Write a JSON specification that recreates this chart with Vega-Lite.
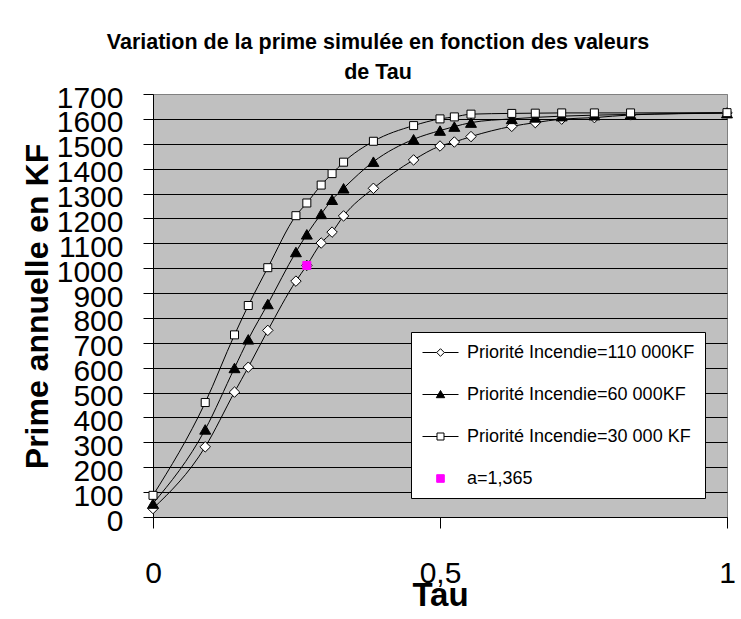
{
  "$schema": "https://vega.github.io/schema/vega-lite/v6.json",
  "width": 574,
  "height": 423,
  "autosize": {"type": "none"},
  "padding": {"left": 153, "top": 94, "right": 14, "bottom": 102},
  "background": "white",
  "config": {
    "font": "Liberation Sans",
    "view": {"fill": "#C0C0C0", "stroke": "#808080", "strokeWidth": 1},
    "legend": {
      "title": null,
      "orient": "none",
      "legendX": 258,
      "legendY": 238,
      "direction": "vertical",
      "fillColor": "white",
      "strokeColor": "black",
      "padding": 10,
      "cornerRadius": 0,
      "symbolSize": 400,
      "symbolOffset": 9,
      "symbolStrokeWidth": 1,
      "symbolOpacity": 1,
      "labelOffset": 16,
      "labelFont": "Liberation Sans",
      "labelFontSize": 18,
      "labelColor": "black",
      "labelLimit": 0,
      "rowPadding": 22
    }
  },
  "title": {
    "text": ["Variation de la prime simulée en fonction des valeurs", "de Tau"],
    "font": "Liberation Sans",
    "fontSize": 21.5,
    "fontWeight": "bold",
    "color": "black",
    "lineHeight": 30,
    "anchor": "middle",
    "frame": "group",
    "dx": -62,
    "dy": 22,
    "baseline": "alphabetic",
    "offset": 5
  },
  "data": {
    "values": [
      {"tau": 0, "prime": 34, "serie": "Priorité Incendie=110 000KF"},
      {"tau": 0.091, "prime": 282, "serie": "Priorité Incendie=110 000KF"},
      {"tau": 0.142, "prime": 502, "serie": "Priorité Incendie=110 000KF"},
      {"tau": 0.166, "prime": 602, "serie": "Priorité Incendie=110 000KF"},
      {"tau": 0.2, "prime": 750, "serie": "Priorité Incendie=110 000KF"},
      {"tau": 0.249, "prime": 948, "serie": "Priorité Incendie=110 000KF"},
      {"tau": 0.268, "prime": 1011, "serie": "Priorité Incendie=110 000KF"},
      {"tau": 0.293, "prime": 1101, "serie": "Priorité Incendie=110 000KF"},
      {"tau": 0.312, "prime": 1145, "serie": "Priorité Incendie=110 000KF"},
      {"tau": 0.332, "prime": 1210, "serie": "Priorité Incendie=110 000KF"},
      {"tau": 0.384, "prime": 1321, "serie": "Priorité Incendie=110 000KF"},
      {"tau": 0.454, "prime": 1435, "serie": "Priorité Incendie=110 000KF"},
      {"tau": 0.5, "prime": 1491, "serie": "Priorité Incendie=110 000KF"},
      {"tau": 0.525, "prime": 1507, "serie": "Priorité Incendie=110 000KF"},
      {"tau": 0.554, "prime": 1529, "serie": "Priorité Incendie=110 000KF"},
      {"tau": 0.625, "prime": 1570, "serie": "Priorité Incendie=110 000KF"},
      {"tau": 0.666, "prime": 1585, "serie": "Priorité Incendie=110 000KF"},
      {"tau": 0.712, "prime": 1599, "serie": "Priorité Incendie=110 000KF"},
      {"tau": 0.769, "prime": 1605, "serie": "Priorité Incendie=110 000KF"},
      {"tau": 0.832, "prime": 1616, "serie": "Priorité Incendie=110 000KF"},
      {"tau": 1, "prime": 1624, "serie": "Priorité Incendie=110 000KF"},
      {"tau": 0, "prime": 54, "serie": "Priorité Incendie=60 000KF"},
      {"tau": 0.091, "prime": 352, "serie": "Priorité Incendie=60 000KF"},
      {"tau": 0.142, "prime": 599, "serie": "Priorité Incendie=60 000KF"},
      {"tau": 0.166, "prime": 714, "serie": "Priorité Incendie=60 000KF"},
      {"tau": 0.2, "prime": 856, "serie": "Priorité Incendie=60 000KF"},
      {"tau": 0.249, "prime": 1065, "serie": "Priorité Incendie=60 000KF"},
      {"tau": 0.268, "prime": 1136, "serie": "Priorité Incendie=60 000KF"},
      {"tau": 0.293, "prime": 1218, "serie": "Priorité Incendie=60 000KF"},
      {"tau": 0.312, "prime": 1275, "serie": "Priorité Incendie=60 000KF"},
      {"tau": 0.332, "prime": 1321, "serie": "Priorité Incendie=60 000KF"},
      {"tau": 0.384, "prime": 1428, "serie": "Priorité Incendie=60 000KF"},
      {"tau": 0.454, "prime": 1518, "serie": "Priorité Incendie=60 000KF"},
      {"tau": 0.5, "prime": 1553, "serie": "Priorité Incendie=60 000KF"},
      {"tau": 0.525, "prime": 1569, "serie": "Priorité Incendie=60 000KF"},
      {"tau": 0.554, "prime": 1585, "serie": "Priorité Incendie=60 000KF"},
      {"tau": 0.625, "prime": 1600, "serie": "Priorité Incendie=60 000KF"},
      {"tau": 0.666, "prime": 1606, "serie": "Priorité Incendie=60 000KF"},
      {"tau": 0.712, "prime": 1611, "serie": "Priorité Incendie=60 000KF"},
      {"tau": 0.769, "prime": 1615, "serie": "Priorité Incendie=60 000KF"},
      {"tau": 0.832, "prime": 1618, "serie": "Priorité Incendie=60 000KF"},
      {"tau": 1, "prime": 1623, "serie": "Priorité Incendie=60 000KF"},
      {"tau": 0, "prime": 87, "serie": "Priorité Incendie=30 000 KF"},
      {"tau": 0.091, "prime": 460, "serie": "Priorité Incendie=30 000 KF"},
      {"tau": 0.142, "prime": 732, "serie": "Priorité Incendie=30 000 KF"},
      {"tau": 0.166, "prime": 850, "serie": "Priorité Incendie=30 000 KF"},
      {"tau": 0.2, "prime": 1002, "serie": "Priorité Incendie=30 000 KF"},
      {"tau": 0.249, "prime": 1211, "serie": "Priorité Incendie=30 000 KF"},
      {"tau": 0.268, "prime": 1262, "serie": "Priorité Incendie=30 000 KF"},
      {"tau": 0.293, "prime": 1334, "serie": "Priorité Incendie=30 000 KF"},
      {"tau": 0.312, "prime": 1380, "serie": "Priorité Incendie=30 000 KF"},
      {"tau": 0.332, "prime": 1426, "serie": "Priorité Incendie=30 000 KF"},
      {"tau": 0.384, "prime": 1510, "serie": "Priorité Incendie=30 000 KF"},
      {"tau": 0.454, "prime": 1573, "serie": "Priorité Incendie=30 000 KF"},
      {"tau": 0.5, "prime": 1600, "serie": "Priorité Incendie=30 000 KF"},
      {"tau": 0.525, "prime": 1608, "serie": "Priorité Incendie=30 000 KF"},
      {"tau": 0.554, "prime": 1619, "serie": "Priorité Incendie=30 000 KF"},
      {"tau": 0.625, "prime": 1622, "serie": "Priorité Incendie=30 000 KF"},
      {"tau": 0.666, "prime": 1623, "serie": "Priorité Incendie=30 000 KF"},
      {"tau": 0.712, "prime": 1624, "serie": "Priorité Incendie=30 000 KF"},
      {"tau": 0.769, "prime": 1624, "serie": "Priorité Incendie=30 000 KF"},
      {"tau": 0.832, "prime": 1624, "serie": "Priorité Incendie=30 000 KF"},
      {"tau": 1, "prime": 1625, "serie": "Priorité Incendie=30 000 KF"},
      {"tau": 0.268, "prime": 1011, "serie": "a=1,365"}
    ]
  },
  "encoding": {
    "x": {
      "field": "tau",
      "type": "quantitative",
      "scale": {"domain": [0, 1], "nice": false, "zero": false},
      "axis": {
        "values": [0, 0.5, 1],
        "format": "~g",
        "title": "Tau",
        "labelExpr": "replace(datum.label, '.', ',')",
        "labelFont": "Liberation Sans",
        "labelFontSize": 30,
        "labelColor": "black",
        "labelBaseline": "alphabetic",
        "labelPadding": 54,
        "labelFlush": false,
        "labelOverlap": false,
        "labelBound": false,
        "tickSize": 11,
        "tickColor": "black",
        "tickWidth": 1,
        "domainColor": "black",
        "domainWidth": 1,
        "grid": false,
        "titleFont": "Liberation Sans",
        "titleFontSize": 33,
        "titleFontWeight": "bold",
        "titleColor": "black",
        "titleX": 287,
        "titleY": 88,
        "titleBaseline": "alphabetic",
        "titleAlign": "center"
      }
    },
    "y": {
      "field": "prime",
      "type": "quantitative",
      "scale": {"domain": [0, 1700], "nice": false},
      "axis": {
        "values": [0, 100, 200, 300, 400, 500, 600, 700, 800, 900, 1000, 1100, 1200, 1300, 1400, 1500, 1600, 1700],
        "format": "d",
        "title": "Prime annuelle en KF",
        "labelFont": "Liberation Sans",
        "labelFontSize": 30,
        "labelColor": "black",
        "labelBaseline": "alphabetic",
        "labelOffset": 13,
        "labelPadding": 20,
        "labelOverlap": false,
        "labelFlush": false,
        "labelBound": false,
        "tickSize": 10,
        "tickColor": "black",
        "tickWidth": 1,
        "domainColor": "black",
        "domainWidth": 1,
        "grid": true,
        "gridColor": {"condition": {"test": "datum.value === 1700", "value": "#808080"}, "value": "black"},
        "gridWidth": 1,
        "gridOpacity": 1,
        "titleFont": "Liberation Sans",
        "titleFontSize": 32,
        "titleFontWeight": "bold",
        "titleColor": "black",
        "titleAngle": 270,
        "titleX": -106,
        "titleY": 212,
        "titleBaseline": "alphabetic",
        "titleAlign": "center"
      }
    }
  },
  "layer": [
    {
      "transform": [{"filter": "datum.serie !== 'a=1,365'"}],
      "mark": {"type": "line", "interpolate": "monotone", "color": "black", "strokeWidth": 1, "clip": false},
      "encoding": {
        "detail": {"field": "serie", "type": "nominal"}
      }
    },
    {
      "mark": {"type": "point", "filled": true, "strokeWidth": 1, "opacity": 1, "clip": false},
      "encoding": {
        "fill": {
          "field": "serie",
          "type": "nominal",
          "scale": {
            "domain": ["Priorité Incendie=110 000KF", "Priorité Incendie=60 000KF", "Priorité Incendie=30 000 KF", "a=1,365"],
            "range": ["white", "black", "white", "#FF00FF"]
          },
          "legend": {"title": null}
        },
        "stroke": {
          "field": "serie",
          "type": "nominal",
          "scale": {
            "domain": ["Priorité Incendie=110 000KF", "Priorité Incendie=60 000KF", "Priorité Incendie=30 000 KF", "a=1,365"],
            "range": ["black", "black", "black", "#FF00FF"]
          },
          "legend": {"title": null}
        },
        "shape": {
          "condition": [
            {"test": "datum.serie === 'Priorité Incendie=110 000KF'", "value": "diamond"},
            {"test": "datum.serie === 'Priorité Incendie=60 000KF'", "value": "triangle-up"}
          ],
          "value": "square"
        },
        "size": {
          "condition": [
            {"test": "datum.serie === 'Priorité Incendie=110 000KF'", "value": 110},
            {"test": "datum.serie === 'Priorité Incendie=60 000KF'", "value": 120}
          ],
          "value": 64
        }
      }
    },
    {
      "mark": {"type": "point", "filled": true, "opacity": 0},
      "encoding": {
        "shape": {
          "field": "serie",
          "type": "nominal",
          "scale": {
            "domain": ["Priorité Incendie=110 000KF", "Priorité Incendie=60 000KF", "Priorité Incendie=30 000 KF", "a=1,365"],
            "range": [
              "M-1.8,0L-0.38,0M0.38,0L1.8,0M0,-0.38L0.38,0L0,0.38L-0.38,0Z",
              "M-1.8,0L1.8,0M0,-0.4L0.42,0.32L-0.42,0.32Z",
              "M-1.8,0L-0.35,0M0.35,0L1.8,0M-0.35,-0.35L0.35,-0.35L0.35,0.35L-0.35,0.35Z",
              "M-0.38,-0.38L0.38,-0.38L0.38,0.38L-0.38,0.38Z"
            ]
          },
          "legend": {"title": null}
        }
      }
    }
  ]
}
